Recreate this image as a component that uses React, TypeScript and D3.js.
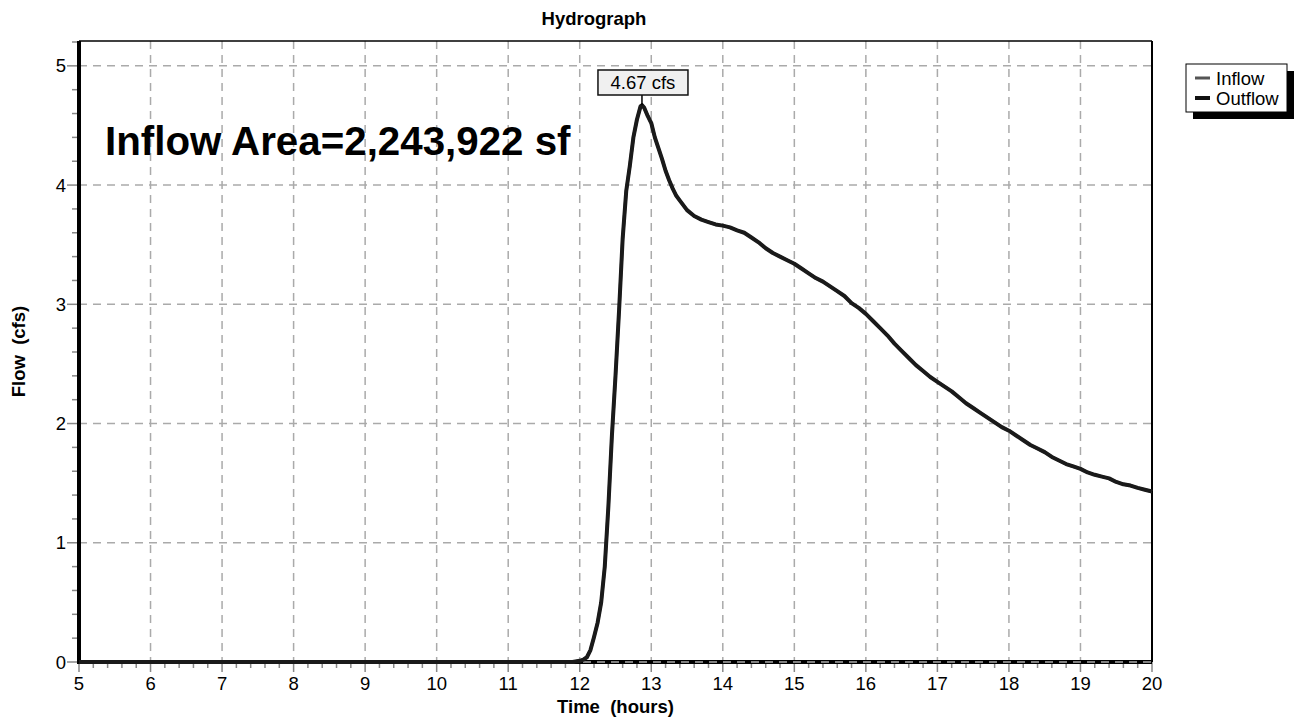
import React from 'react'
import * as d3 from 'd3'

// hydrograph values (hours, cfs)
const times = [
    5, 11.9, 12.0, 12.05, 12.1, 12.15, 12.2, 12.25, 12.3, 12.35, 12.4, 12.45,
    12.5, 12.55, 12.6, 12.65, 12.7, 12.75, 12.8, 12.85, 12.87, 12.9, 12.95, 13.0,
    13.05, 13.1, 13.15, 13.2, 13.25, 13.3, 13.35, 13.4, 13.5, 13.6, 13.7, 13.8,
    13.9, 14.0, 14.1, 14.2, 14.3, 14.4, 14.5, 14.6, 14.7, 14.8, 14.9, 15.0, 15.1,
    15.2, 15.3, 15.4, 15.5, 15.6, 15.7, 15.8, 15.9, 16.0, 16.1, 16.2, 16.3, 16.4,
    16.5, 16.6, 16.7, 16.8, 16.9, 17.0, 17.1, 17.2, 17.3, 17.4, 17.5, 17.6, 17.7,
    17.8, 17.9, 18.0, 18.1, 18.2, 18.3, 18.4, 18.5, 18.6, 18.7, 18.8, 18.9, 19.0,
    19.1, 19.2, 19.3, 19.4, 19.5, 19.6, 19.7, 19.8, 19.9, 20.0,
]
const outflow = [
    0, 0, 0.01, 0.02, 0.04, 0.1, 0.21, 0.33, 0.5, 0.8, 1.3, 1.9, 2.4, 2.95, 3.55,
    3.95, 4.16, 4.4, 4.55, 4.66, 4.67, 4.65, 4.58, 4.52, 4.4, 4.31, 4.22, 4.12,
    4.04, 3.97, 3.91, 3.87, 3.79, 3.74, 3.71, 3.69, 3.67, 3.66, 3.645, 3.62, 3.6,
    3.56, 3.52, 3.47, 3.43, 3.4, 3.37, 3.34, 3.3, 3.26, 3.22, 3.19, 3.15, 3.11,
    3.07, 3.01, 2.97, 2.92, 2.86, 2.8, 2.74, 2.67, 2.61, 2.55, 2.49, 2.44, 2.39,
    2.35, 2.31, 2.27, 2.22, 2.17, 2.13, 2.09, 2.05, 2.01, 1.97, 1.94, 1.9, 1.86,
    1.82, 1.79, 1.76, 1.72, 1.69, 1.66, 1.64, 1.62, 1.59, 1.57, 1.555, 1.54, 1.51,
    1.49, 1.48, 1.46, 1.445, 1.43,
]
const xTicks = [5, 6, 7, 8, 9, 10, 11, 12, 13, 14, 15, 16, 17, 18, 19, 20]
const yTicks = [0, 1, 2, 3, 4, 5]
const peakTime = 12.87
const peakFlow = 4.67
const legendItems = [
    { name: 'Inflow', color: '#555', width: 3 },
    { name: 'Outflow', color: '#111', width: 4 },
]

const W = 1294
const H = 719
const left = 79
const right = 1152
const top = 41
const bottom = 662

export default function App() {
    const x = d3.scaleLinear().domain([5, 20]).range([left, right])
    const y = d3.scaleLinear().domain([0, 5.2]).range([bottom, top + 1])

    const pts = times.map((t, i) => ({ t, v: outflow[i] }))
    const line = d3
        .line<{ t: number; v: number }>()
        .x(d => x(d.t))
        .y(d => y(d.v))

    const xMinor = d3.range(50, 201, 2).map(d => d / 10)
    const yMinor = d3.range(0, 53, 2).map(d => d / 10)

    const px = x(peakTime)
    const py = y(peakFlow)

    return (
        <div style={{ position: 'fixed', left: 0, top: 0 }}>
            <svg width={W} height={H} style={{ display: 'block', fontFamily: 'Liberation Sans, Arial, sans-serif' }}>
                <rect width={W} height={H} fill='#fff' />
                <text x={594} y={25} textAnchor='middle' fontSize={18.5} fontWeight='bold'>
                    Hydrograph
                </text>

                {/* grid */}
                {xTicks.map(t => (
                    <line key={'gx' + t} x1={x(t)} x2={x(t)} y1={top} y2={bottom}
                        stroke='#aaa' strokeWidth={1.5} strokeDasharray='8,6' />
                ))}
                {yTicks.map(t => (
                    <line key={'gy' + t} x1={left} x2={right} y1={y(t)} y2={y(t)}
                        stroke='#aaa' strokeWidth={1.5} strokeDasharray='8,6' />
                ))}

                {/* minor + major ticks */}
                {xMinor.map(t => (
                    <line key={'mx' + t} x1={x(t)} x2={x(t)} y1={bottom}
                        y2={bottom + (Number.isInteger(t) ? 10 : 6)} stroke='#888' strokeWidth={1.5} />
                ))}
                {yMinor.map(t => (
                    <line key={'my' + t} x1={left} x2={left - (Number.isInteger(t) ? 12 : 7)}
                        y1={y(t)} y2={y(t)} stroke='#888' strokeWidth={1.5} />
                ))}

                {/* frame */}
                <line x1={left} x2={right} y1={top} y2={top} stroke='#000' strokeWidth={1.5} />
                <line x1={right} x2={right} y1={top} y2={bottom} stroke='#000' strokeWidth={2} />
                <line x1={left} x2={right} y1={bottom} y2={bottom} stroke='#000' strokeWidth={4} />
                <line x1={left} x2={right} y1={bottom} y2={bottom} stroke='#aaa' strokeWidth={1.5} strokeDasharray='8,6' />
                <line x1={left} x2={left} y1={top} y2={bottom + 2} stroke='#000' strokeWidth={4} />

                {/* series */}
                <path d={line(pts) || ''} fill='none' stroke='#555' strokeWidth={3} />
                <path d={line(pts) || ''} fill='none' stroke='#1a1a1a' strokeWidth={4} strokeLinejoin='round' />

                {/* tick labels */}
                {xTicks.map(t => (
                    <text key={'lx' + t} x={x(t)} y={690} textAnchor='middle' fontSize={18.5}>{t}</text>
                ))}
                {yTicks.map(t => (
                    <text key={'ly' + t} x={66} y={y(t) + 6.5} textAnchor='end' fontSize={18.5}>{t}</text>
                ))}

                <text x={(left + right) / 2} y={713} textAnchor='middle' fontSize={18.5} fontWeight='bold'>
                    Time{'\u00a0\u00a0'}(hours)
                </text>
                <text transform={`translate(25,${(top + bottom) / 2}) rotate(-90)`} textAnchor='middle'
                    fontSize={18.5} fontWeight='bold'>
                    Flow{'\u00a0\u00a0'}(cfs)
                </text>

                <text x={105} y={155} fontSize={40.3} fontWeight='bold'>Inflow Area=2,243,922 sf</text>

                {/* peak label */}
                <line x1={px} x2={px} y1={95} y2={py} stroke='#000' strokeWidth={1.5} />
                <rect x={px - 44} y={70} width={90} height={25} fill='#f0f0f0' stroke='#111' strokeWidth={1.5} />
                <text x={px + 1} y={89} textAnchor='middle' fontSize={18.5}>4.67 cfs</text>

                {/* legend */}
                <rect x={1193} y={71} width={101} height={48} fill='#000' />
                <rect x={1186} y={64} width={101} height={48} fill='#fff' stroke='#000' strokeWidth={1} />
                {legendItems.map((d, i) => (
                    <g key={d.name} transform={`translate(1195,${78 + i * 20})`}>
                        <line x1={0} x2={15} y1={0} y2={0} stroke={d.color} strokeWidth={d.width} />
                        <text x={21} y={6.5} fontSize={18.5}>{d.name}</text>
                    </g>
                ))}
            </svg>
        </div>
    )
}
